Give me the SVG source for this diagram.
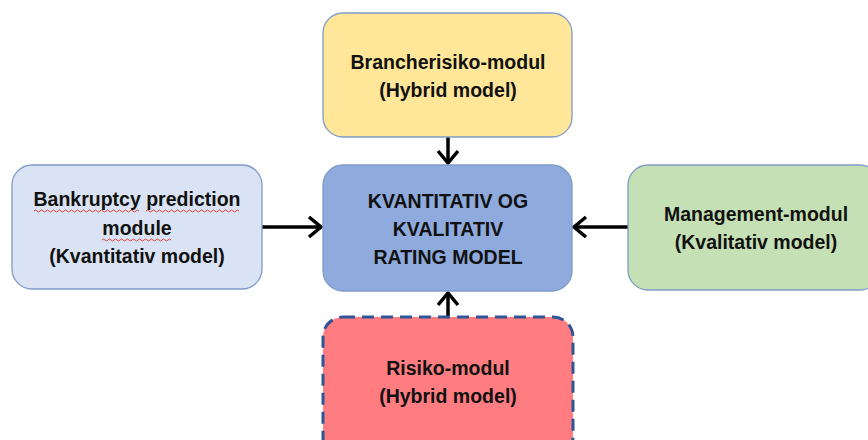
<svg xmlns="http://www.w3.org/2000/svg" width="868" height="440" viewBox="0 0 868 440">
<style>
.box{stroke:#7F9BC8;stroke-width:1.3}
.t{font-family:"Liberation Sans",Arial,sans-serif;font-weight:bold;font-size:19.5px;fill:#111;text-anchor:middle}
.c{stroke:#000;stroke-width:3.5;fill:none}
.sq{stroke:#E03030;stroke-width:0.9;fill:none}
</style>
<defs>
<marker id="ah" markerUnits="userSpaceOnUse" markerWidth="20" markerHeight="24" refX="15" refY="11" orient="auto">
<path d="M3,1 L15,11 L3,21" fill="none" stroke="#000" stroke-width="3.5" stroke-linejoin="miter"/>
</marker>
</defs>
<rect width="868" height="440" fill="#fff"/>
<g id="connectors">
<line class="c" x1="448" y1="137" x2="448" y2="163" marker-end="url(#ah)"/>
<line class="c" x1="262" y1="227" x2="321" y2="227" marker-end="url(#ah)"/>
<line class="c" x1="628" y1="227" x2="574" y2="227" marker-end="url(#ah)"/>
<line class="c" x1="448" y1="317" x2="448" y2="293" marker-end="url(#ah)"/>
</g>
<g id="branche">
<rect class="box" x="323" y="13" width="249" height="124" rx="20" fill="#FFE699"/>
<text class="t" x="448" y="69">Brancherisiko-modul</text>
<text class="t" x="448" y="97">(Hybrid model)</text>
</g>
<g id="bankruptcy">
<rect class="box" x="12" y="165" width="250" height="124" rx="20" fill="#DAE3F3"/>
<text class="t" x="137" y="206">Bankruptcy prediction</text>
<text class="t" x="137" y="235">module</text>
<text class="t" x="137" y="263">(Kvantitativ model)</text>
<path class="sq" d="M34,211 q1.5,-2 3,0 t3,0 t3,0 t3,0 t3,0 t3,0 t3,0 t3,0 t3,0 t3,0 t3,0 t3,0 t3,0 t3,0 t3,0 t3,0 t3,0 t3,0 t3,0 t3,0 t3,0 t3,0 t3,0 t3,0 t3,0 t3,0 t3,0 t3,0 t3,0 t3,0 t3,0 t3,0 t3,0 t3,0 t3,0"/>
<path class="sq" d="M146,211 q1.5,-2 3,0 t3,0 t3,0 t3,0 t3,0 t3,0 t3,0 t3,0 t3,0 t3,0 t3,0 t3,0 t3,0 t3,0 t3,0 t3,0 t3,0 t3,0 t3,0 t3,0 t3,0 t3,0 t3,0 t3,0 t3,0 t3,0 t3,0 t3,0 t3,0 t3,0 t3,0"/>
<path class="sq" d="M102,240 q1.5,-2 3,0 t3,0 t3,0 t3,0 t3,0 t3,0 t3,0 t3,0 t3,0 t3,0 t3,0 t3,0 t3,0 t3,0 t3,0 t3,0 t3,0 t3,0 t3,0 t3,0 t3,0 t3,0 t3,0"/>
</g>
<g id="center">
<rect class="box" x="323" y="165" width="249" height="126" rx="20" fill="#8FAADC"/>
<text class="t" x="448" y="208">KVANTITATIV OG</text>
<text class="t" x="448" y="236">KVALITATIV</text>
<text class="t" x="448" y="264">RATING MODEL</text>
</g>
<g id="management">
<rect class="box" x="628" y="165" width="252" height="125" rx="20" fill="#C5E0B4"/>
<text class="t" x="756" y="221">Management-modul</text>
<text class="t" x="756" y="249">(Kvalitativ model)</text>
</g>
<g id="risiko">
<rect x="323" y="317" width="250" height="140" rx="20" fill="#FF7C80" stroke="#2F5597" stroke-width="3" stroke-dasharray="12 7"/>
<text class="t" x="448" y="375">Risiko-modul</text>
<text class="t" x="448" y="403">(Hybrid model)</text>
</g>
</svg>
